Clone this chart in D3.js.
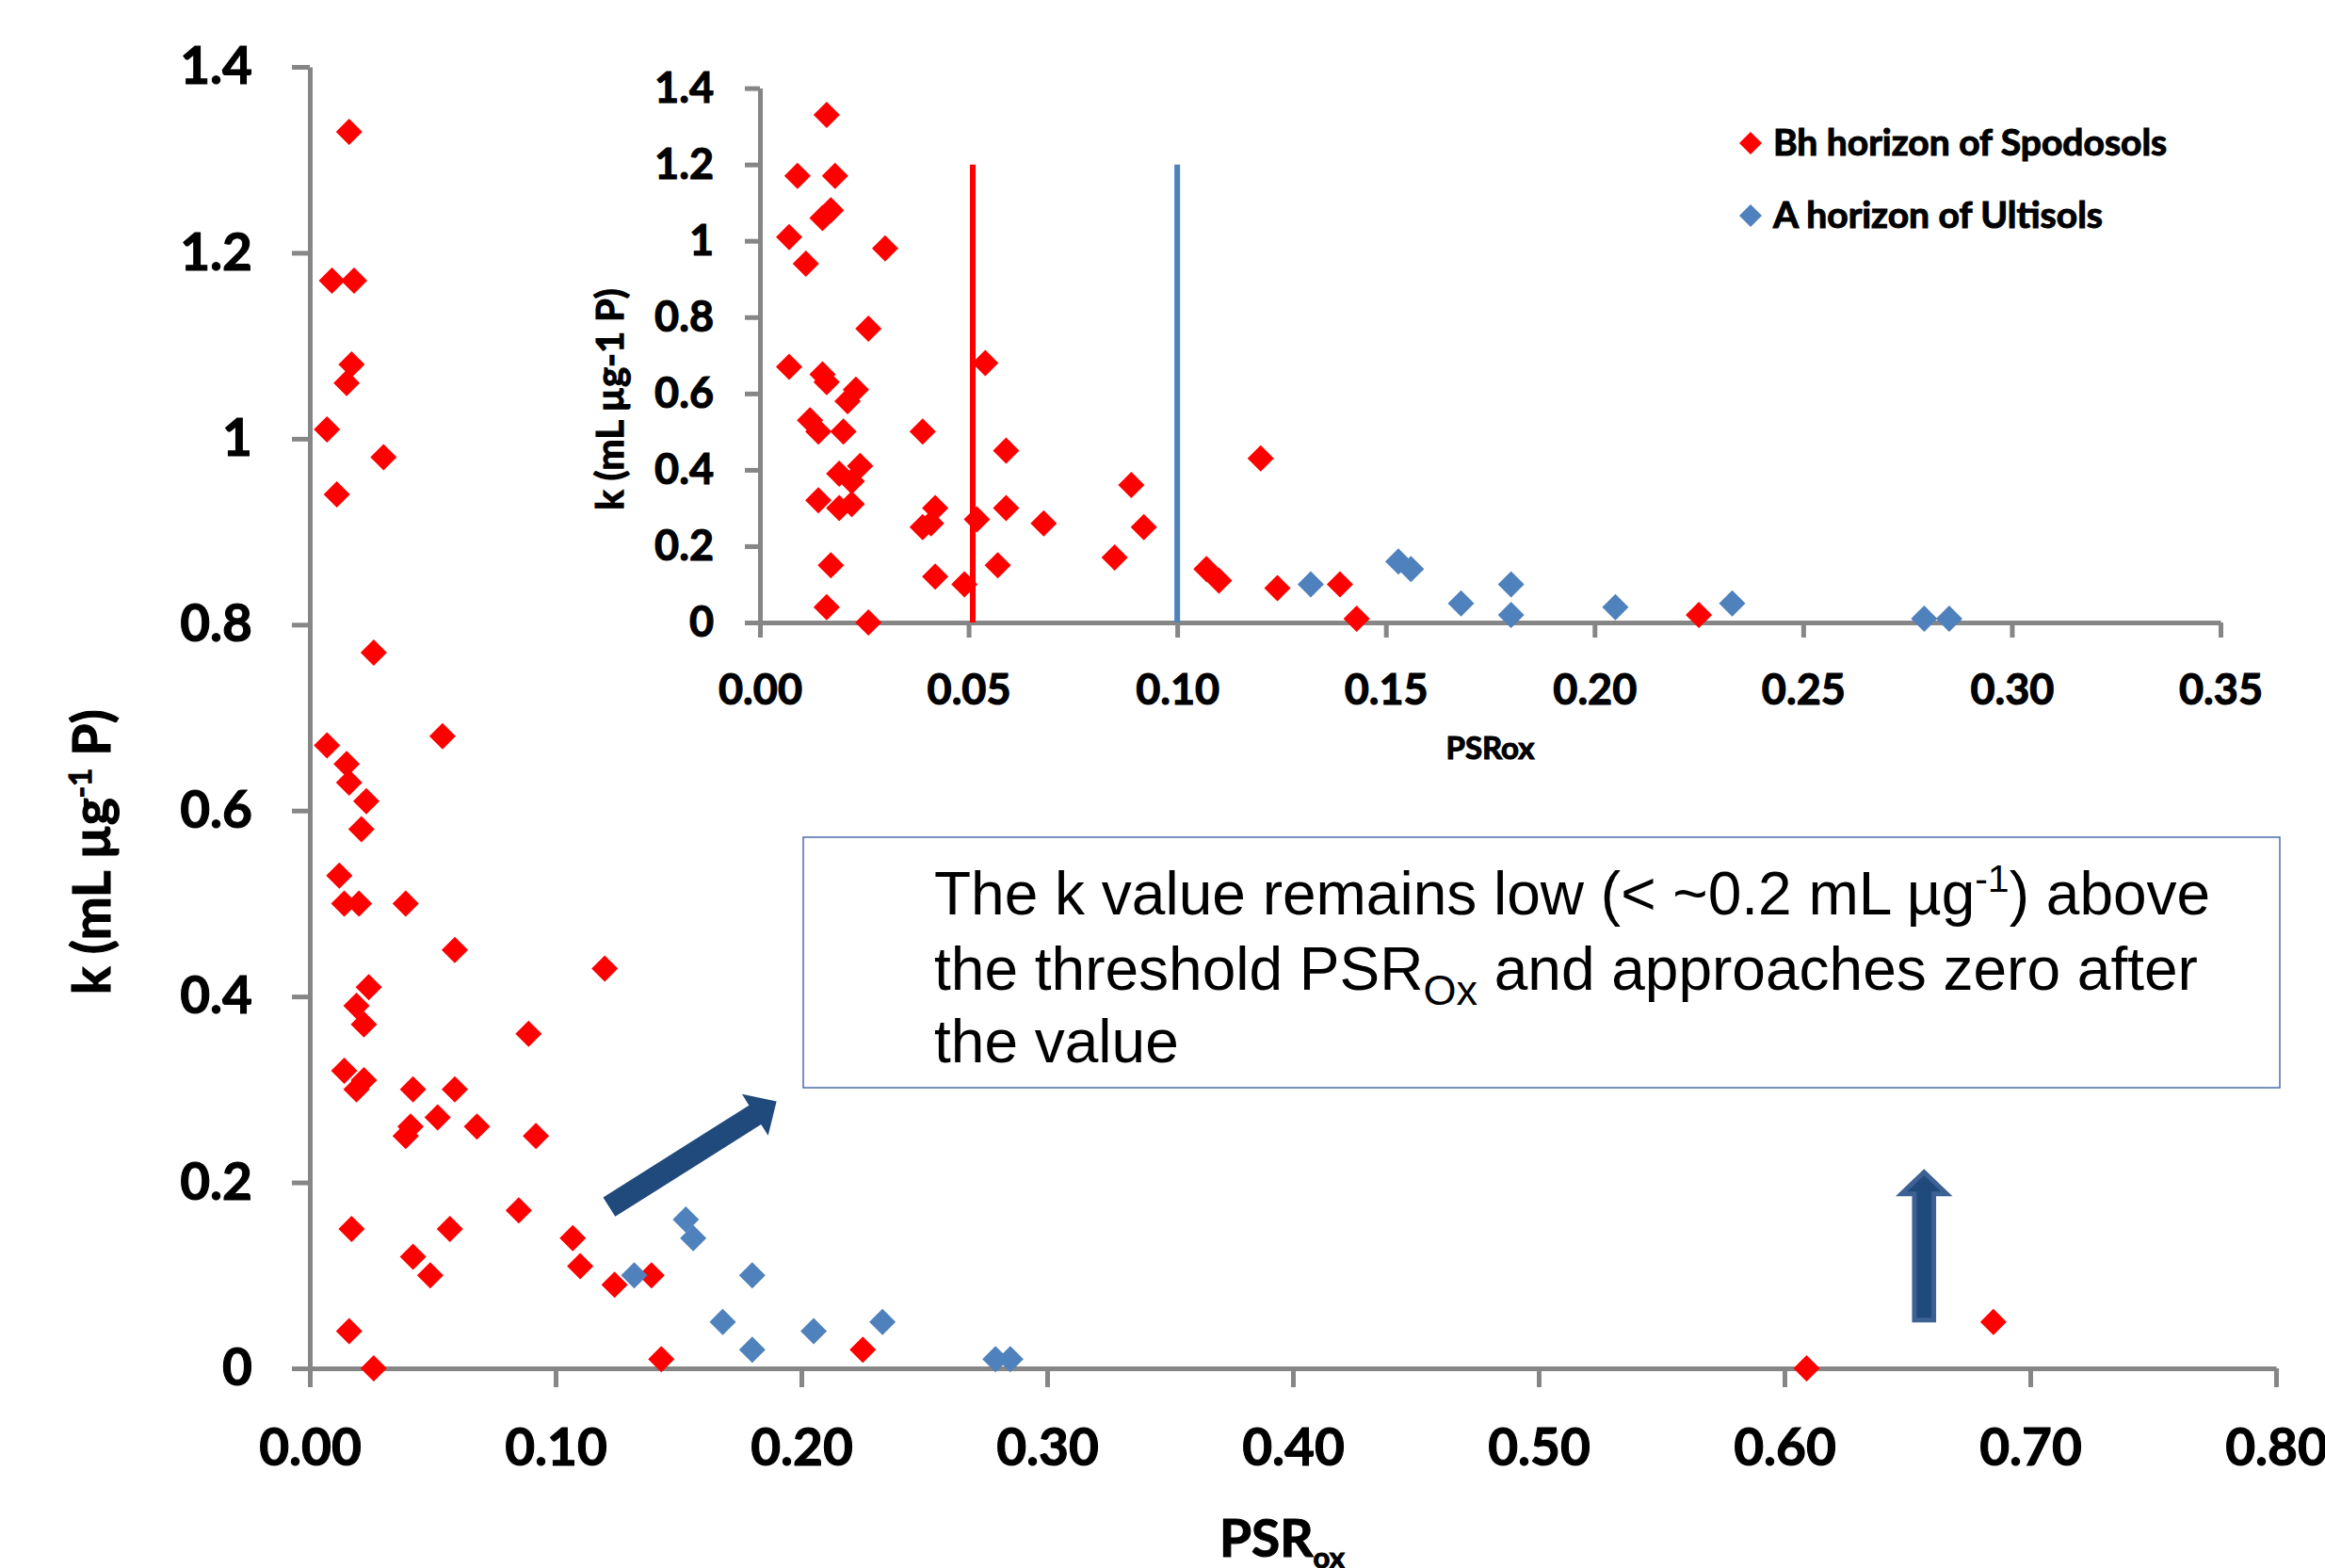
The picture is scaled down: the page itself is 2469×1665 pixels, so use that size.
<!DOCTYPE html>
<html>
<head>
<meta charset="utf-8">
<script src="https://d3js.org/d3.v7.min.js"></script>
<style>
  body { margin: 0; background: #fff; }
  svg text { font-family: Lato, "Open Sans", sans-serif; font-weight: 700; fill: #000; stroke: #000; stroke-width: 1.1px; }
  svg text.note { font-family: "Liberation Sans", Arial, sans-serif; font-weight: 400; stroke: none; }
</style>
</head>
<body>
<svg id="chart" width="2469" height="1665"></svg>
<script>
// Bh horizon of Spodosols (red)
var bhPsr = [0.016, 0.009, 0.018, 0.017, 0.015, 0.007, 0.030, 0.011, 0.026, 0.054,
             0.007, 0.015, 0.016, 0.023, 0.021, 0.012, 0.014, 0.020, 0.039, 0.059,
             0.024, 0.019, 0.022, 0.014, 0.019, 0.022, 0.042, 0.039, 0.041, 0.059,
             0.052, 0.068, 0.017, 0.042, 0.049, 0.057, 0.016, 0.026, 0.089, 0.092,
             0.085, 0.120, 0.107, 0.110, 0.124, 0.139, 0.143, 0.225, 0.609, 0.685];
var bhK   = [1.33, 1.17, 1.17, 1.08, 1.06, 1.01, 0.98, 0.94, 0.77, 0.68,
             0.67, 0.65, 0.63, 0.61, 0.58, 0.53, 0.50, 0.50, 0.50, 0.45,
             0.41, 0.39, 0.37, 0.32, 0.30, 0.31, 0.30, 0.25, 0.26, 0.30,
             0.27, 0.26, 0.15, 0.12, 0.10, 0.15, 0.04, 0.00, 0.36, 0.25,
             0.17, 0.43, 0.14, 0.11, 0.09, 0.10, 0.01, 0.02, 0.00, 0.05];
// A horizon of Ultisols (blue)
var aPsr = [0.132, 0.153, 0.156, 0.168, 0.180, 0.180, 0.205, 0.233, 0.279, 0.285];
var aK   = [0.10, 0.16, 0.14, 0.05, 0.10, 0.02, 0.04, 0.05, 0.01, 0.01];

var mainXTicks  = [0, 0.1, 0.2, 0.3, 0.4, 0.5, 0.6, 0.7, 0.8];
var mainYTicks  = [0, 0.2, 0.4, 0.6, 0.8, 1, 1.2, 1.4];
var insetXTicks = [0, 0.05, 0.1, 0.15, 0.2, 0.25, 0.3, 0.35];
var insetYTicks = [0, 0.2, 0.4, 0.6, 0.8, 1, 1.2, 1.4];

// threshold PSRox lines in the inset
var thresholdPsr    = [0.051, 0.10];
var thresholdColors = ["#ff0000", "#4f81bd"];
var thresholdTop    = 1.2;

var seriesNames  = ["Bh horizon of Spodosols", "A horizon of Ultisols"];
var seriesColors = ["#ff0000", "#4f81bd"];

var svg = d3.select("#chart");
var axisGrey = "#868686";

var bh = bhPsr.map(function (x, i) { return { x: x, y: bhK[i] }; });
var ult = aPsr.map(function (x, i) { return { x: x, y: aK[i] }; });

var kFmt = function (d) { return d === 0 ? "0" : String(+d.toFixed(1)); };

// ---- main chart ----
var x = d3.scaleLinear().domain([0, 0.8]).range([329, 2417]);
var y = d3.scaleLinear().domain([0, 1.4]).range([1453, 71]);

function styleAxis(g, size) {
  g.select(".domain").attr("stroke", axisGrey).attr("stroke-width", 5);
  g.selectAll(".tick line").attr("stroke", axisGrey).attr("stroke-width", 5);
  g.selectAll(".tick text").style("font-size", size + "px").attr("fill", "#000");
}

svg.append("g")
  .attr("transform", "translate(0," + y(0) + ")")
  .call(d3.axisBottom(x).tickValues(mainXTicks).tickFormat(d3.format(".2f"))
    .tickSize(20).tickSizeOuter(0).tickPadding(44))
  .call(styleAxis, 55);

svg.append("g")
  .attr("transform", "translate(" + x(0) + ",0)")
  .call(d3.axisLeft(y).tickValues(mainYTicks).tickFormat(kFmt)
    .tickSize(19).tickSizeOuter(0).tickPadding(42))
  .call(styleAxis, 55);

var diamond = d3.symbol().type(d3.symbolSquare).size(392);

function drawPoints(g, data, sx, sy, color) {
  g.selectAll(null).data(data).enter().append("path")
    .attr("d", diamond)
    .attr("fill", color)
    .attr("transform", function (d) {
      return "translate(" + sx(d.x) + "," + sy(d.y) + ") rotate(45)";
    });
}

var mainPts = svg.append("g");
drawPoints(mainPts, bh, x, y, seriesColors[0]);
drawPoints(mainPts, ult, x, y, seriesColors[1]);

// main axis titles
var yt = svg.append("text")
  .attr("transform", "translate(117,1056) rotate(-90)")
  .style("font-size", "55px");
yt.append("tspan").text("k (mL \u00b5g");
yt.append("tspan").attr("dy", -20).style("font-size", "33px").text("-1");
yt.append("tspan").attr("dy", 20).text(" P)");

var xt = svg.append("text")
  .attr("x", 1295).attr("y", 1653)
  .style("font-size", "55px");
xt.append("tspan").text("PSR");
xt.append("tspan").attr("dy", 12).style("font-size", "31px").text("ox");

// ---- inset chart ----
var ix = d3.scaleLinear().domain([0, 0.35]).range([807, 2358]);
var iy = d3.scaleLinear().domain([0, 1.4]).range([661, 93.6]);

svg.append("g")
  .attr("transform", "translate(0," + iy(0) + ")")
  .call(d3.axisBottom(ix).tickValues(insetXTicks).tickFormat(d3.format(".2f"))
    .tickSize(16).tickSizeOuter(0).tickPadding(39))
  .call(styleAxis, 45);

svg.append("g")
  .attr("transform", "translate(" + ix(0) + ",0)")
  .call(d3.axisLeft(iy).tickValues(insetYTicks).tickFormat(kFmt)
    .tickSize(16).tickSizeOuter(0).tickPadding(33))
  .call(styleAxis, 45);

svg.append("g").selectAll("line").data(thresholdPsr).enter().append("line")
  .attr("x1", function (d) { return ix(d); })
  .attr("x2", function (d) { return ix(d); })
  .attr("y1", iy(thresholdTop))
  .attr("y2", iy(0))
  .attr("stroke", function (d, i) { return thresholdColors[i]; })
  .attr("stroke-width", 6);

var insetPts = svg.append("g");
drawPoints(insetPts, bh.filter(function (d) { return d.x <= 0.35; }), ix, iy, seriesColors[0]);
drawPoints(insetPts, ult, ix, iy, seriesColors[1]);

svg.append("text")
  .attr("transform", "translate(662,424) rotate(-90)")
  .attr("text-anchor", "middle")
  .style("font-size", "40px")
  .text("k (mL \u00b5g-1 P)");

svg.append("text")
  .attr("x", (ix.range()[0] + ix.range()[1]) / 2).attr("y", 806)
  .attr("text-anchor", "middle")
  .style("font-size", "33px")
  .text("PSRox");

// legend
var legend = svg.append("g");
var legDiamond = d3.symbol().type(d3.symbolSquare).size(288);
seriesNames.forEach(function (name, i) {
  var cy = 152 + i * 77;
  legend.append("path").attr("d", legDiamond).attr("fill", seriesColors[i])
    .attr("transform", "translate(1859," + cy + ") rotate(45)");
  legend.append("text").attr("x", 1883).attr("y", cy + 13)
    .style("font-size", "39px").text(name);
});

// ---- annotation box ----
svg.append("rect")
  .attr("x", 853).attr("y", 889).attr("width", 1568).attr("height", 266)
  .attr("fill", "#fff").attr("stroke", "#4a6ea6").attr("stroke-width", 1.5);

var note = svg.append("text").attr("class", "note").style("font-size", "64px");
var l1 = note.append("tspan").attr("x", 992).attr("y", 971);
l1.append("tspan").text("The k value remains low (< ~0.2 mL \u00b5g");
l1.append("tspan").attr("dy", -24).style("font-size", "41px").text("-1");
l1.append("tspan").attr("dy", 24).text(") above");
var l2 = note.append("tspan").attr("x", 992).attr("y", 1051);
l2.append("tspan").text("the threshold PSR");
l2.append("tspan").attr("dy", 16).style("font-size", "45px").text("Ox");
l2.append("tspan").attr("dy", -16).text(" and approaches zero after");
note.append("tspan").attr("x", 992).attr("y", 1128).text("the value");

// ---- arrows (anchored in main-chart data units) ----
var arrowFill = "#214a7c";

function arrowPath(x0, y0, x1, y1, shaftHalf, headHalf, headLen) {
  var dx = x1 - x0, dy = y1 - y0, len = Math.sqrt(dx * dx + dy * dy);
  var ux = dx / len, uy = dy / len, px = -uy, py = ux;
  var bx = x1 - ux * headLen, by = y1 - uy * headLen;
  var p = d3.path();
  p.moveTo(x0 + px * shaftHalf, y0 + py * shaftHalf);
  p.lineTo(bx + px * shaftHalf, by + py * shaftHalf);
  p.lineTo(bx + px * headHalf, by + py * headHalf);
  p.lineTo(x1, y1);
  p.lineTo(bx - px * headHalf, by - py * headHalf);
  p.lineTo(bx - px * shaftHalf, by - py * shaftHalf);
  p.lineTo(x0 - px * shaftHalf, y0 - py * shaftHalf);
  p.closePath();
  return p.toString();
}

svg.append("path")
  .attr("d", arrowPath(x(0.1218), y(0.1735), x(0.1899), y(0.2873), 12, 26, 27))
  .attr("fill", arrowFill);

svg.append("path")
  .attr("d", arrowPath(x(0.6568), y(0.052), x(0.6568), y(0.211), 10.3, 24, 23))
  .attr("fill", arrowFill)
  .attr("stroke", "#3d6192").attr("stroke-width", 5);
</script>
</body>
</html>
